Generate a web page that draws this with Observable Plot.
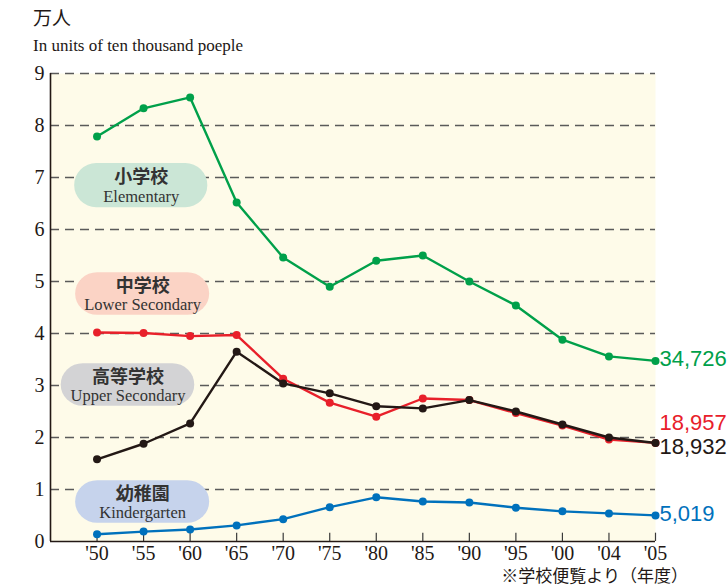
<!DOCTYPE html>
<html>
<head>
<meta charset="utf-8">
<script src="https://cdn.jsdelivr.net/npm/d3@7"></script>
<script src="https://cdn.jsdelivr.net/npm/@observablehq/plot@0.6"></script>
<style>
  html, body { margin: 0; padding: 0; background: #ffffff; overflow: hidden; width: 728px; height: 586px; }
  #wrap { position: relative; width: 728px; height: 586px; }
  #t1 { position: absolute; left: 33px; top: 7px; font: 19px/1 "Noto Sans CJK JP", sans-serif; color: #231815; }
  #t2 { position: absolute; left: 33px; top: 37px; font: 17px/1 "Liberation Serif", serif; color: #231815; }
  #chart { position: absolute; left: 0; top: 60px; }
  #cap { position: absolute; right: 40px; top: 566px; font: 17px/1 "Noto Sans CJK JP", sans-serif; color: #231815; white-space: nowrap; }
</style>
</head>
<body>
<div id="wrap">
  <div id="t1">万人</div>
  <div id="t2">In units of ten thousand poeple</div>
  <div id="chart"></div>
  <div id="cap">※学校便覧より（年度）</div>
</div>
<script>
// ---- data (units: ten thousand people) ----
const years = ["'50","'55","'60","'65","'70","'75","'80","'85","'90","'95","'00","'04","'05"];
const elementary     = [7.79, 8.33, 8.54, 6.52, 5.46, 4.90, 5.40, 5.50, 5.00, 4.54, 3.88, 3.56, 3.4726];
const lowerSecondary = [4.02, 4.01, 3.95, 3.97, 3.13, 2.67, 2.40, 2.75, 2.72, 2.47, 2.23, 1.96, 1.8957];
const upperSecondary = [1.58, 1.88, 2.27, 3.65, 3.04, 2.85, 2.60, 2.56, 2.72, 2.50, 2.25, 2.00, 1.8932];
const kindergarten   = [0.14, 0.19, 0.23, 0.31, 0.43, 0.66, 0.85, 0.77, 0.75, 0.65, 0.58, 0.54, 0.5019];
const seriesNames = ["小学校", "中学校", "高等学校", "幼稚園"];
const seriesEnglish = ["Elementary", "Lower Secondary", "Upper Secondary", "Kindergarten"];
const yTicks = [0,1,2,3,4,5,6,7,8,9];

// ---- styles / annotation placement ----
const seriesValues = [elementary, lowerSecondary, upperSecondary, kindergarten];
const colors = ["#00a04a", "#e8202a", "#231815", "#0071bc"];
const pillFill = ["#cbe6d6", "#fbd3c5", "#d3d3d5", "#c6d3ec"];
const pillBox = [ // x1,x2 in index units, y1,y2 in value units
  [-0.48, 2.38, 6.42, 7.27],
  [-0.46, 2.42, 4.35, 5.17],
  [-0.77, 2.10, 2.60, 3.42],
  [-0.46, 2.42, 0.35, 1.17]
];
const endDy = [-2, -20, 4, -1];
const drawOrder = [0, 1, 2, 3];

const idx = years.map((_, i) => i);
const series = drawOrder.map(s => ({
  s, color: colors[s],
  pts: seriesValues[s].map((v, i) => ({i, v}))
}));
const pills = pillBox.map((b, s) => ({s, x1: b[0], x2: b[1], y1: b[2], y2: b[3], xc: (b[0]+b[1])/2, yc: (b[2]+b[3])/2, jp: seriesNames[s], en: seriesEnglish[s], fill: pillFill[s]}));
const ends = seriesValues.map((vals, s) => ({s, i: vals.length - 1, v: vals[vals.length - 1], label: d3.format(",")(Math.round(vals[vals.length - 1] * 10000)), color: colors[s], dy: endDy[s]}));

const marks = [
  Plot.frame({fill: "#fefbe9", stroke: null}),
  Plot.ruleY(yTicks.filter(d => d > 0), {stroke: "#5a5a5a", strokeWidth: 1.3, strokeDasharray: "9,6"}),
  Plot.ruleX(idx, {x: d => d, y1: 0, y2: 0.16, stroke: "#3a3a3a", strokeWidth: 1.2}),
  Plot.ruleX([-1], {y1: 0, y2: 9, stroke: "#231815", strokeWidth: 1.6}),
  Plot.ruleY([0], {x1: -1, x2: 12, stroke: "#231815", strokeWidth: 1.6}),
  Plot.axisY(yTicks, {tickSize: 0, tickPadding: 6, tickFormat: d => String(d), fontSize: 20, fontFamily: "Liberation Serif", fill: "#231815"}),
  Plot.axisX(idx, {tickSize: 0, tickPadding: 4, tickFormat: i => years[i], fontSize: 20, fontFamily: "Liberation Serif", fill: "#231815"}),
  Plot.rect(pills, {x1: "x1", x2: "x2", y1: "y1", y2: "y2", fill: "fill", rx: 22}),
  Plot.text(pills, {x: "xc", y: "yc", text: "jp", dy: -8, fontSize: 18, fontWeight: "bold", fontFamily: "Noto Sans CJK JP", fill: "#333333"}),
  Plot.text(pills, {x: "xc", y: "yc", text: "en", dy: 11, fontSize: 16.5, fontFamily: "Liberation Serif", fill: "#333333"})
];
for (const sr of series) {
  marks.push(Plot.line(sr.pts, {x: "i", y: "v", stroke: sr.color, strokeWidth: 2.4}));
  marks.push(Plot.dot(sr.pts, {x: "i", y: "v", r: 4, fill: sr.color, stroke: null}));
}
for (const e of ends) {
  marks.push(Plot.text([e], {x: "i", y: "v", text: "label", dx: 4, dy: e.dy, textAnchor: "start", fontSize: 22, fontFamily: "Liberation Sans", fill: e.color}));
}

const chart = Plot.plot({
  width: 728,
  height: 508,
  marginLeft: 50,
  marginRight: 73,
  marginTop: 13,
  marginBottom: 27,
  style: {background: "transparent", overflow: "visible"},
  x: {type: "linear", domain: [-1, 12], axis: null},
  y: {domain: [0, 9], axis: null},
  fill: {type: "identity"},
  marks
});
document.getElementById("chart").appendChild(chart);
</script>
</body>
</html>
